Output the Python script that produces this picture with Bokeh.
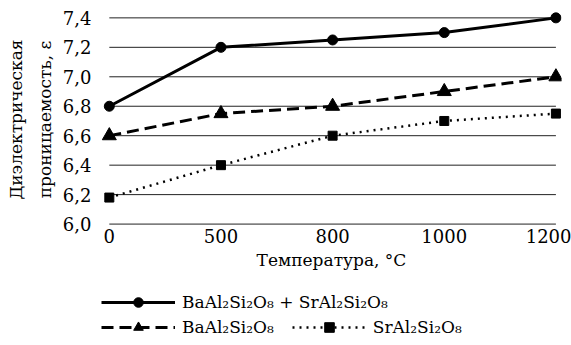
from bokeh.plotting import figure
from bokeh.models import Range1d, FixedTicker, Legend, LegendItem
from bokeh.layouts import column
from bokeh.embed import file_html
from bokeh.resources import INLINE

temps = ["0", "500", "800", "1000", "1200"]
ba_sr = [6.8, 7.2, 7.25, 7.3, 7.4]
ba = [6.6, 6.75, 6.8, 6.9, 7.0]
sr = [6.18, 6.4, 6.6, 6.7, 6.75]
y_ticks = [6.0, 6.2, 6.4, 6.6, 6.8, 7.0, 7.2, 7.4]

name_ba_sr = "BaAl\u2082Si\u2082O\u2088 + SrAl\u2082Si\u2082O\u2088"
name_ba = "BaAl\u2082Si\u2082O\u2088"
name_sr = "SrAl\u2082Si\u2082O\u2088"

FONT = "DejaVu Serif"
xs = list(range(len(temps)))
series = [ba_sr, ba, sr]

STYLES = [
    dict(line=dict(line_color="black", line_width=3), marker="circle", size=10),
    dict(line=dict(line_color="black", line_width=3, line_dash="12 6"), marker="triangle", size=14),
    dict(line=dict(line_color="black", line_width=2.5, line_dash="2 5"), marker="square", size=9),
]

p = figure(width=571, height=290, output_backend="svg", toolbar_location=None,
           x_range=Range1d(-0.07, 4.05), y_range=Range1d(5.97, 7.45),
           min_border_left=101, min_border_right=10, min_border_top=10, min_border_bottom=62)
p.outline_line_color = None
p.xgrid.visible = False
p.ygrid.visible = False

# grid lines spanning first to last category
p.segment(x0=[xs[0]] * len(y_ticks), x1=[xs[-1]] * len(y_ticks), y0=y_ticks, y1=y_ticks,
          line_color="#222222", line_width=1)

for ys, st in zip(series, STYLES):
    p.line(xs, ys, **st["line"])
    p.scatter(xs, ys, marker=st["marker"], size=st["size"], color="black")

# axes
p.xaxis.ticker = FixedTicker(ticks=xs)
p.xaxis.major_label_overrides = {i: t for i, t in zip(xs, temps)}
p.yaxis.ticker = FixedTicker(ticks=y_ticks)
p.yaxis.major_label_overrides = {v: f"{v:.1f}".replace(".", ",") for v in y_ticks}
for ax in (p.xaxis[0], p.yaxis[0]):
    ax.axis_line_color = None
    ax.major_tick_line_color = None
    ax.minor_tick_line_color = None
    ax.major_tick_out = 0
    ax.major_tick_in = 0
    ax.major_label_text_font = FONT
    ax.major_label_text_font_size = "18px"
    ax.major_label_text_color = "black"
    ax.axis_label_text_font = FONT
    ax.axis_label_text_font_size = "17px"
    ax.axis_label_text_font_style = "normal"
    ax.axis_label_text_color = "black"

p.xaxis.axis_label = "Температура, °C"
p.xaxis.major_label_standoff = 0
p.xaxis.axis_label_standoff = 4
p.yaxis.axis_label = "Диэлектрическая\nпроницаемость, ε"
p.yaxis.axis_label_text_line_height = 1.45
p.yaxis.major_label_standoff = 10
p.yaxis.axis_label_standoff = 5

# legend strip below the chart; proxy renderers use the same data,
# which lies outside this strip's ranges, so only the legend shows
lf = figure(width=571, height=55, output_backend="svg", toolbar_location=None,
            x_range=Range1d(0, 1), y_range=Range1d(0, 1),
            x_axis_type=None, y_axis_type=None,
            min_border_left=0, min_border_right=0, min_border_top=0, min_border_bottom=0)
lf.outline_line_color = None
lf.xgrid.visible = False
lf.ygrid.visible = False
proxies = []
for ys, st in zip(series, STYLES):
    rl = lf.line(xs, ys, **st["line"])
    rm = lf.scatter(xs, ys, marker=st["marker"], size=st["size"], color="black")
    proxies.append([rl, rm])

def style_legend(lg):
    lg.label_text_font = FONT
    lg.label_text_font_size = "17px"
    lg.label_text_color = "black"
    lg.glyph_width = 74
    lg.glyph_height = 24
    lg.label_height = 24
    lg.label_standoff = 7
    lg.padding = 0
    lg.margin = 0
    lg.spacing = 18
    lg.border_line_color = None
    lg.background_fill_alpha = 0

leg1 = Legend(items=[LegendItem(label=name_ba_sr, renderers=proxies[0])],
              location=(0, 31), orientation="horizontal")
leg2 = Legend(items=[LegendItem(label=name_ba, renderers=proxies[1]),
                     LegendItem(label=name_sr, renderers=proxies[2])],
              location=(0, 6), orientation="horizontal")
style_legend(leg1)
style_legend(leg2)
lf.add_layout(leg1, "center")
lf.add_layout(leg2, "center")

open("out.html", "w").write(file_html(column(p, lf), INLINE))
